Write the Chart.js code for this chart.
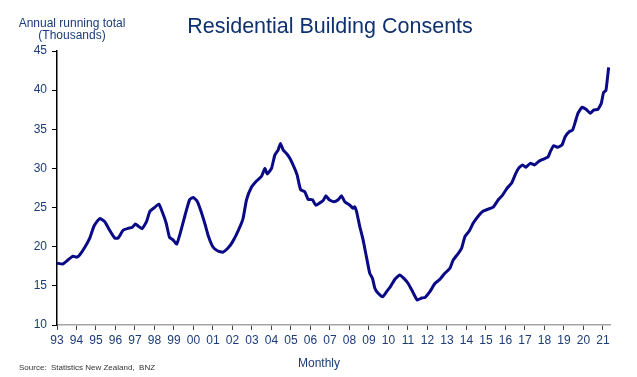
<!DOCTYPE html>
<html>
<head>
<meta charset="utf-8">
<script src="https://cdn.jsdelivr.net/npm/chart.js@4/dist/chart.umd.min.js"></script>
<style>
  html, body { margin: 0; padding: 0; background: #fff; }
  #wrap { width: 637px; height: 377px; }
</style>
</head>
<body>
<div id="wrap"><canvas id="consents" width="637" height="377"></canvas></div>
<script>
// Fecha (año decimal) y total anual (miles)
const years = [
  1993.00, 1993.30, 1993.56, 1993.82, 1994.00, 1994.16, 1994.42, 1994.68, 1994.90, 1995.19,
  1995.45, 1995.70, 1995.96, 1996.13, 1996.39, 1996.64, 1996.85, 1997.02, 1997.16, 1997.36,
  1997.59, 1997.76, 1998.00, 1998.22, 1998.42, 1998.60, 1998.77, 1998.94, 1999.14, 1999.36,
  1999.57, 1999.80, 1999.99, 2000.20, 2000.39, 2000.60, 2000.77, 2000.99, 2001.25, 2001.50,
  2001.76, 2002.01, 2002.30, 2002.54, 2002.72, 2002.97, 2003.23, 2003.49, 2003.66, 2003.78,
  2004.00, 2004.17, 2004.34, 2004.46, 2004.60, 2004.77, 2004.94, 2005.15, 2005.31, 2005.49,
  2005.71, 2005.88, 2006.10, 2006.27, 2006.48, 2006.65, 2006.79, 2006.96, 2007.20, 2007.42,
  2007.59, 2007.76, 2008.02, 2008.19, 2008.27, 2008.36, 2008.53, 2008.70, 2008.87, 2009.04,
  2009.18, 2009.30, 2009.47, 2009.70, 2009.90, 2010.10, 2010.33, 2010.58, 2010.79, 2011.01,
  2011.24, 2011.47, 2011.70, 2011.87, 2012.12, 2012.38, 2012.64, 2012.89, 2013.15, 2013.32,
  2013.58, 2013.75, 2013.92, 2014.14, 2014.34, 2014.60, 2014.86, 2015.11, 2015.37, 2015.63,
  2015.85, 2016.09, 2016.31, 2016.50, 2016.67, 2016.88, 2017.05, 2017.27, 2017.50, 2017.70,
  2017.96, 2018.18, 2018.30, 2018.47, 2018.69, 2018.90, 2019.06, 2019.27, 2019.44, 2019.58,
  2019.72, 2019.92, 2020.13, 2020.35, 2020.52, 2020.74, 2020.91, 2021.03, 2021.15, 2021.29
];
const consents = [
  17.9, 17.8, 18.3, 18.8, 18.65, 18.95, 19.9, 21.1, 22.65, 23.6,
  23.2, 22.1, 21.1, 21.1, 22.1, 22.35, 22.45, 22.9, 22.65, 22.3,
  23.2, 24.5, 25.0, 25.45, 24.3, 23.0, 21.2, 20.9, 20.35, 22.1,
  24.05, 26.0, 26.3, 25.75, 24.5, 22.8, 21.3, 20.0, 19.45, 19.3,
  19.8, 20.65, 22.1, 23.6, 26.0, 27.6, 28.4, 29.0, 30.0, 29.3,
  30.0, 31.7, 32.35, 33.2, 32.35, 31.9, 31.3, 30.2, 29.2, 27.3,
  27.0, 26.05, 26.0, 25.3, 25.6, 25.9, 26.5, 26.0, 25.75, 26.0,
  26.5, 25.75, 25.3, 24.9, 25.1, 24.5, 22.55, 20.85, 18.7, 16.6,
  15.95, 14.7, 14.05, 13.6, 14.25, 14.9, 15.85, 16.4, 15.95, 15.3,
  14.25, 13.2, 13.45, 13.5, 14.25, 15.3, 15.85, 16.6, 17.25, 18.3,
  19.15, 19.8, 21.3, 22.0, 23.0, 23.9, 24.55, 24.8, 25.05, 26.0,
  26.6, 27.5, 28.1, 29.2, 30.0, 30.45, 30.15, 30.65, 30.45, 30.9,
  31.2, 31.45, 32.15, 32.9, 32.7, 33.0, 34.05, 34.7, 34.9, 35.95,
  37.05, 37.8, 37.55, 37.05, 37.45, 37.55, 38.3, 39.7, 39.95, 42.9
];
const yTicks = [10, 15, 20, 25, 30, 35, 40, 45];

const azul = "#1b3c78";
const fuente = "'Liberation Sans', Arial, sans-serif";

// Textos sueltos: título, nota del eje, fuente y "Monthly"
const textos = {
  id: "textos",
  afterDraw(chart) {
    const ctx = chart.ctx;
    ctx.save();
    ctx.fillStyle = "#0f3170";
    ctx.textAlign = "center";
    ctx.textBaseline = "alphabetic";
    ctx.font = "21.5px " + fuente;
    ctx.fillText("Residential Building Consents", 330, 33);

    ctx.fillStyle = azul;
    ctx.font = "12px " + fuente;
    ctx.fillText("Annual running total", 72, 27);
    ctx.fillText("(Thousands)", 72, 39);
    ctx.fillText("Monthly", 319, 367);

    ctx.textAlign = "left";
    ctx.fillStyle = "#333";
    ctx.font = "8px " + fuente;
    ctx.fillText("Source:  Statistics New Zealand,  BNZ", 19, 370);
    ctx.restore();
  }
};

const ctx = document.getElementById("consents").getContext("2d");
const chart = new Chart(ctx, {
  type: "line",
  data: {
    datasets: [{
      label: "Residential Building Consents",
      data: years.map((x, i) => ({ x: x, y: consents[i] })),
      borderColor: "#0a0a86",
      borderWidth: 3,
      pointRadius: 0,
      tension: 0.15,
      fill: false
    }]
  },
  options: {
    responsive: false,
    animation: false,
    layout: { padding: { left: 0, right: 27, top: 51, bottom: 0 } },
    plugins: {
      legend: { display: false },
      title: { display: false },
      tooltip: { enabled: false }
    },
    scales: {
      x: {
        type: "linear",
        min: 1993,
        max: 2021.36,
        afterFit: s => { s.height = 52; },
        border: { color: "#a6a6a6", width: 1.5 },
        grid: { drawOnChartArea: false, tickLength: 5, tickColor: "#444" },
        ticks: {
          stepSize: 1,
          includeBounds: false,
          autoSkip: false,
          maxRotation: 0,
          padding: 3,
          color: azul,
          font: { family: fuente, size: 12 },
          callback: v => String(v % 100).padStart(2, "0")
        }
      },
      y: {
        min: 10,
        max: 45,
        afterFit: s => { s.width = 57; },
        afterBuildTicks: s => { s.ticks = yTicks.map(v => ({ value: v })); },
        border: { color: "#000", width: 1.5 },
        grid: { drawOnChartArea: false, tickLength: 5, tickColor: "#000" },
        ticks: {
          padding: 5,
          color: azul,
          font: { family: fuente, size: 12 }
        }
      }
    }
  },
  plugins: [textos]
});
</script>
</body>
</html>
